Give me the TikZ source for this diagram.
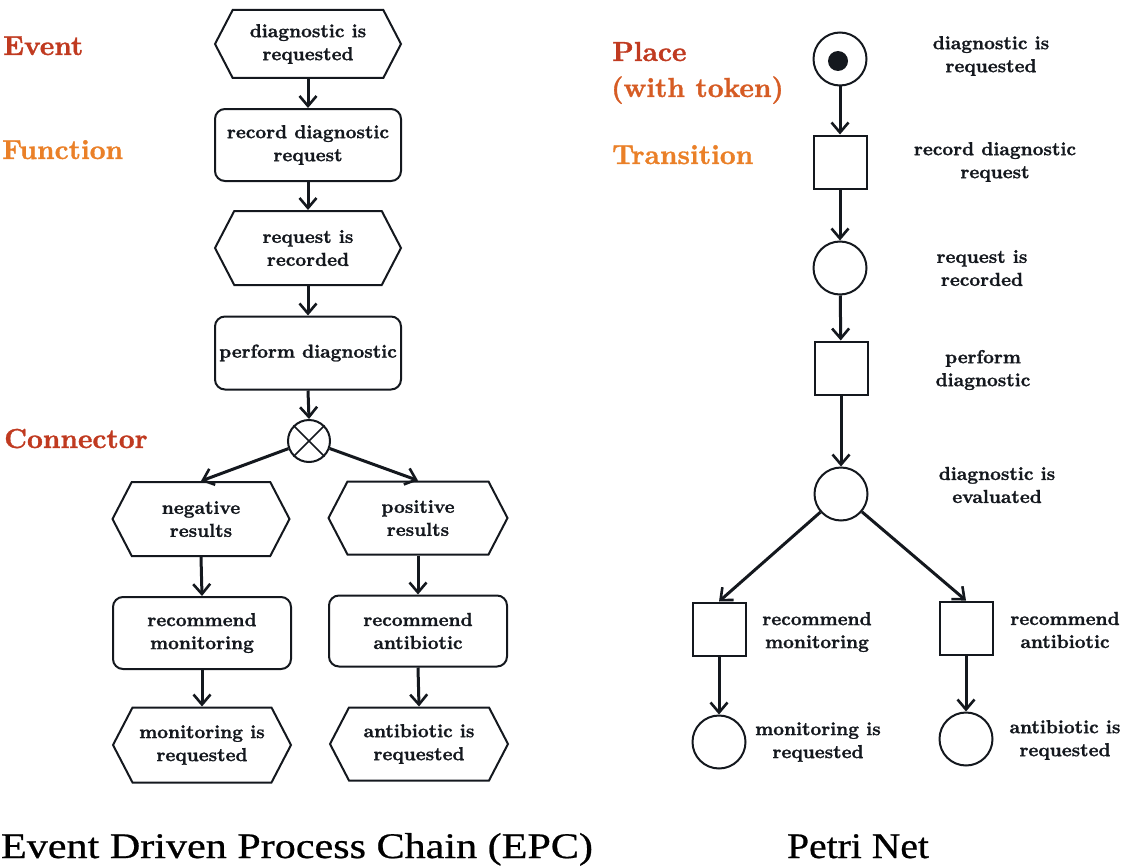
\documentclass[tikz,border=0pt]{standalone}
\usepackage{fontspec}
\usepackage{graphicx}
\newfontfamily\capfont{Liberation Serif}[FakeBold=0.6]
\newfontfamily\hb{lmroman10-bold.otf}[FakeBold=1.2]
\usetikzlibrary{shapes.symbols,arrows.meta}
\definecolor{evred}{RGB}{192,58,32}
\definecolor{fnorange}{RGB}{234,128,40}
\definecolor{tokorange}{RGB}{214,92,36}
\definecolor{ink}{RGB}{20,24,30}
\begin{document}
\begin{tikzpicture}[x=1pt,y=-1pt,
  lbl/.style={font=\hb\fontsize{18.8}{23}\selectfont, text=ink, align=center},
  event/.style={lbl, draw=ink, line width=2pt, signal, signal to=west and east, signal pointer angle=125, minimum width=186pt, minimum height=70pt, inner sep=0pt},
  func/.style={lbl, draw=ink, line width=2pt, rounded corners=10pt, minimum width=186pt, minimum height=72pt, inner sep=0pt},
  conn/.style={draw=ink, line width=2pt, circle, minimum size=42pt, inner sep=0pt},
  place/.style={draw=ink, line width=2pt, circle, minimum size=53pt, inner sep=0pt},
  trans/.style={draw=ink, line width=2pt, minimum size=53pt, inner sep=0pt},
  flow/.style={line width=3pt, draw=ink, -{Straight Barb[length=10pt,width=17pt,line width=2.6pt]}},
  head/.style={font=\hb\fontsize{27.5}{32}\selectfont, anchor=base west, inner sep=0pt},
  caption/.style={font=\capfont\fontsize{36}{40}\selectfont, text=black, anchor=base, inner sep=0pt}
]
\useasboundingbox (0,0) rectangle (1122,867);

% ---------- headings ----------
\node[head, text=evred] (hEvent) at (3,55) {Event};
\node[head, text=fnorange] (hFunc) at (2,159) {Function};
\node[head, text=evred] (hConn) at (4,448) {Connector};
\node[head, text=evred] (hPlace) at (612,61) {Place};
\node[head, text=tokorange] (hTok) at (611,97) {(with token)};
\node[head, text=fnorange] (hTrans) at (612,164) {Transition};

% ---------- EPC ----------
\node[event, minimum height=68pt] (e1) at (308,44) {diagnostic is\\requested};
\node[func] (f1) at (308,145) {record diagnostic\\request};
\node[event, minimum height=74pt] (e2) at (308,248) {request is\\recorded};
\node[func, minimum height=73pt] (f2) at (308,353) {perform diagnostic};
\node[conn] (c) at (309,441) {};
\draw[ink, line width=1.6pt] (c.north west) -- (c.south east) (c.north east) -- (c.south west);

\node[event, minimum width=177pt, minimum height=74pt] (e3) at (201,519) {negative\\results};
\node[event, minimum width=179pt, minimum height=73pt] (e4) at (418,518) {positive\\results};
\node[func, minimum width=178pt] (f3) at (202,633) {recommend\\monitoring};
\node[func, minimum width=178pt, minimum height=71pt] (f4) at (418,631) {recommend\\antibiotic};
\node[event, minimum width=178pt, minimum height=75pt] (e5) at (202,745) {monitoring is\\requested};
\node[event, minimum width=178pt, minimum height=73pt] (e6) at (419,744) {antibiotic is\\requested};

\draw[flow] (e1.south) -- (f1.north);
\draw[flow] (f1.south) -- (e2.north);
\draw[flow] (e2.south) -- (f2.north);
\draw[flow] (f2.south) -- (c.north);
\draw[flow] (c) -- (e3.north);
\draw[flow] (c) -- (e4.north);
\draw[flow] (e3.south) -- (f3.north);
\draw[flow] (e4.south) -- (f4.north);
\draw[flow] (f3.south) -- (e5.north);
\draw[flow] (f4.south) -- (e6.north);

% ---------- Petri net ----------
\node[place] (p1) at (840,59) {};
\node[circle, fill=ink, minimum size=20pt, inner sep=0pt] (tok) at (838,61) {};
\node[trans] (t1) at (840,162) {};
\node[place] (p2) at (840,268) {};
\node[trans] (t2) at (841,368) {};
\node[place] (p3) at (841,494) {};
\node[trans] (t3) at (719,629) {};
\node[trans] (t4) at (966,628) {};
\node[place] (p4) at (719,742) {};
\node[place] (p5) at (966,739) {};

\draw[flow] (p1) -- (t1);
\draw[flow] (t1) -- (p2);
\draw[flow] (p2) -- (t2);
\draw[flow] (t2) -- (p3);
\draw[flow] (p3) -- (t3.north);
\draw[flow] (p3) -- (t4.north);
\draw[flow] (t3) -- (p4);
\draw[flow] (t4) -- (p5);

\node[lbl] (lp1) at (991,56) {diagnostic is\\requested};
\node[lbl] (lt1) at (995,162) {record diagnostic\\request};
\node[lbl] (lp2) at (982,268) {request is\\recorded};
\node[lbl] (lt2) at (983,370) {perform\\diagnostic};
\node[lbl] (lp3) at (997,485) {diagnostic is\\evaluated};
\node[lbl] (lt3) at (817,632) {recommend\\monitoring};
\node[lbl] (lt4) at (1065,630) {recommend\\antibiotic};
\node[lbl] (lp4) at (818,742) {monitoring is\\requested};
\node[lbl] (lp5) at (1065,740) {antibiotic is\\requested};

% ---------- captions ----------
\node[caption] (capEPC) at (297,858) {\scalebox{1.17}[1]{Event Driven Process Chain (EPC)}};
\node[caption] (capPN) at (858,858) {\scalebox{1.1}[1]{Petri Net}};
\end{tikzpicture}
\end{document}
